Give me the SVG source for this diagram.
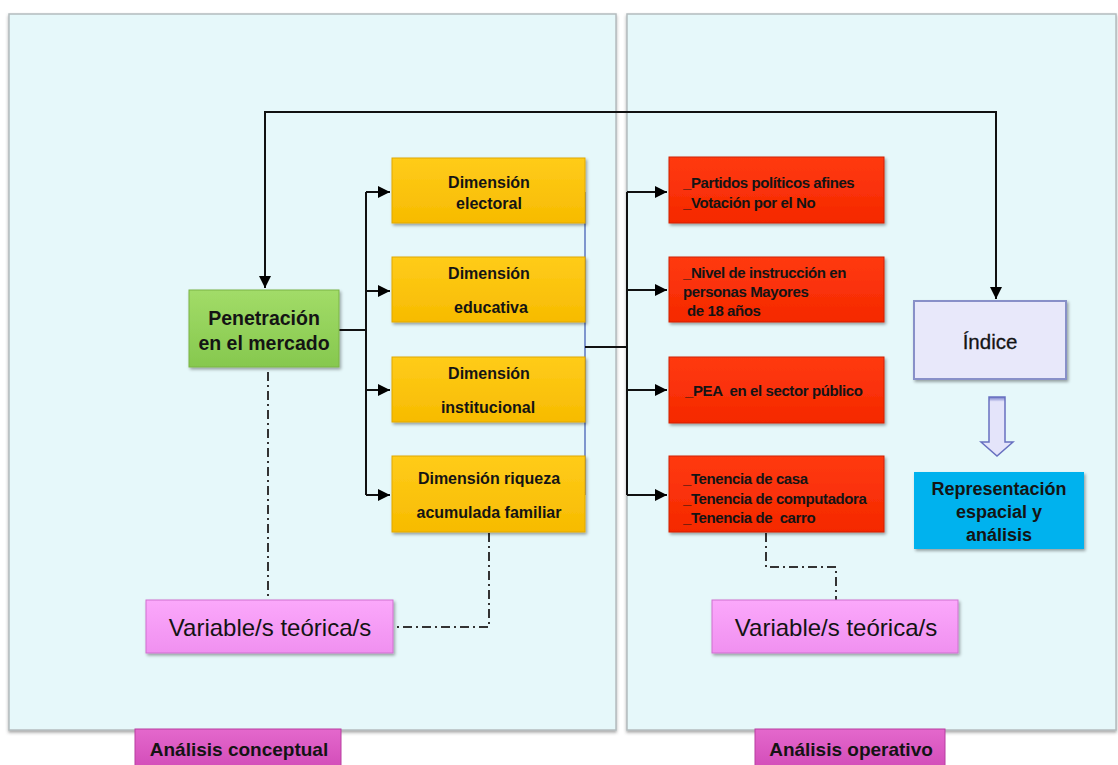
<svg xmlns="http://www.w3.org/2000/svg" width="1118" height="765" viewBox="0 0 1118 765">
<defs>
<filter id="sh" x="-10%" y="-10%" width="130%" height="140%">
<feDropShadow dx="1.5" dy="2" stdDeviation="1.5" flood-color="#000" flood-opacity="0.35"/>
</filter>
<filter id="psh" x="-5%" y="-5%" width="110%" height="110%">
<feDropShadow dx="0" dy="2" stdDeviation="1.5" flood-color="#555" flood-opacity="0.5"/>
</filter>
<linearGradient id="gGreen" x1="0" y1="0" x2="0" y2="1"><stop offset="0" stop-color="#a2dc68"/><stop offset="1" stop-color="#86c84e"/></linearGradient>
<linearGradient id="gYellow" x1="0" y1="0" x2="0" y2="1"><stop offset="0" stop-color="#ffcc1a"/><stop offset="1" stop-color="#f7bb00"/></linearGradient>
<linearGradient id="gRed" x1="0" y1="0" x2="0" y2="1"><stop offset="0" stop-color="#ff3a10"/><stop offset="1" stop-color="#f52800"/></linearGradient>
<linearGradient id="gPink" x1="0" y1="0" x2="0" y2="1"><stop offset="0" stop-color="#fba8fb"/><stop offset="1" stop-color="#f090f0"/></linearGradient>
<linearGradient id="gTab" x1="0" y1="0" x2="0" y2="1"><stop offset="0" stop-color="#e468cc"/><stop offset="1" stop-color="#d24cb8"/></linearGradient>
<linearGradient id="gArrow" x1="0" y1="0" x2="0" y2="1"><stop offset="0" stop-color="#7078c8"/><stop offset="0.08" stop-color="#e4e4fa"/><stop offset="1" stop-color="#e4e4fa"/></linearGradient>
<marker id="arr" viewBox="0 0 10 10" refX="10" refY="5" markerWidth="6" markerHeight="6" orient="auto-start-reverse" markerUnits="strokeWidth">
<path d="M0,0 L10,5 L0,10 z" fill="#000"/>
</marker>
</defs>
<style>
.t{font-family:"Liberation Sans",Arial,sans-serif;fill:#141414;}
.b{font-weight:bold;}
.c{text-anchor:middle;}
.ln{fill:none;stroke:#111;stroke-width:2;}
.dd{fill:none;stroke:#333;stroke-width:2;stroke-dasharray:9 4 2 4;}
.red{font-size:15px;font-weight:bold;letter-spacing:-0.4px;}
.yel{font-size:16px;font-weight:bold;}
</style>
<rect width="1118" height="765" fill="#ffffff"/>
<g id="panels">
<rect x="9" y="14" width="607" height="716" fill="#e6f8fa" stroke="#b4bcbe" stroke-width="1.5" filter="url(#psh)"/>
<rect x="627" y="14" width="489" height="716" fill="#e6f8fa" stroke="#b4bcbe" stroke-width="1.5" filter="url(#psh)"/>
</g>
<g id="connectors">
<path class="ln" d="M265,288 V112 H996 V299" marker-start="url(#arr)" marker-end="url(#arr)"/>
<path class="ln" d="M339,330 H366"/>
<path class="ln" d="M366,192 V495"/>
<path class="ln" d="M366,192 H390" marker-end="url(#arr)"/>
<path class="ln" d="M366,291 H390" marker-end="url(#arr)"/>
<path class="ln" d="M366,390 H390" marker-end="url(#arr)"/>
<path class="ln" d="M366,495 H390" marker-end="url(#arr)"/>
<path d="M585,192 V495" fill="none" stroke="#3a55b0" stroke-width="1.2"/>
<path class="ln" d="M585,347 H627" stroke-width="1.5"/>
<path class="ln" d="M627,192 V495"/>
<path class="ln" d="M627,192 H667" marker-end="url(#arr)"/>
<path class="ln" d="M627,290 H667" marker-end="url(#arr)"/>
<path class="ln" d="M627,390 H667" marker-end="url(#arr)"/>
<path class="ln" d="M627,495 H667" marker-end="url(#arr)"/>
<path class="dd" d="M268,372 V600"/>
<path class="dd" d="M489,533 V627 H393"/>
<path class="dd" d="M766,533 V567 H836 V600"/>
<polygon points="989,397 1005,397 1005,442 1013,442 997,456 981,442 989,442" fill="url(#gArrow)" stroke="#6870c0" stroke-width="1.5"/>
</g>
<g id="n-penetracion">
<rect x="189" y="290" width="150" height="77" fill="url(#gGreen)" stroke="#7ab446" stroke-width="1" filter="url(#sh)"/>
<text class="t b c" x="264" y="325" font-size="19.5">Penetración</text>
<text class="t b c" x="264" y="350" font-size="19.5">en el mercado</text>
</g>
<g id="n-dim-electoral">
<rect x="392" y="158" width="193" height="65" fill="url(#gYellow)" stroke="#e0a800" stroke-width="1" filter="url(#sh)"/>
<text class="t yel c" x="489" y="188">Dimensión</text>
<text class="t yel c" x="489" y="209">electoral</text>
</g>
<g id="n-dim-educativa">
<rect x="392" y="257" width="193" height="65" fill="url(#gYellow)" stroke="#e0a800" stroke-width="1" filter="url(#sh)"/>
<text class="t yel c" x="489" y="279">Dimensión</text>
<text class="t yel c" x="491" y="313">educativa</text>
</g>
<g id="n-dim-institucional">
<rect x="392" y="357" width="193" height="65" fill="url(#gYellow)" stroke="#e0a800" stroke-width="1" filter="url(#sh)"/>
<text class="t yel c" x="489" y="379">Dimensión</text>
<text class="t yel c" x="488" y="413">institucional</text>
</g>
<g id="n-dim-riqueza">
<rect x="392" y="456" width="193" height="76" fill="url(#gYellow)" stroke="#e0a800" stroke-width="1" filter="url(#sh)"/>
<text class="t yel c" x="489" y="484">Dimensión riqueza</text>
<text class="t yel c" x="489" y="518">acumulada familiar</text>
</g>
<g id="n-partidos">
<rect x="669" y="157" width="215" height="66" fill="url(#gRed)" stroke="#d02000" stroke-width="1" filter="url(#sh)"/>
<text class="t red" x="683" y="188">_Partidos políticos afines</text>
<text class="t red" x="683" y="208">_Votación por el No</text>
</g>
<g id="n-nivel">
<rect x="669" y="257" width="215" height="65" fill="url(#gRed)" stroke="#d02000" stroke-width="1" filter="url(#sh)"/>
<text class="t red" x="683" y="278">_Nivel de instrucción en</text>
<text class="t red" x="683" y="297">personas Mayores</text>
<text class="t red" x="687" y="316">de 18 años</text>
</g>
<g id="n-pea">
<rect x="669" y="357" width="215" height="66" fill="url(#gRed)" stroke="#d02000" stroke-width="1" filter="url(#sh)"/>
<text class="t red" x="685" y="396" xml:space="preserve">_PEA  en el sector público</text>
</g>
<g id="n-tenencia">
<rect x="669" y="456" width="215" height="76" fill="url(#gRed)" stroke="#d02000" stroke-width="1" filter="url(#sh)"/>
<text class="t red" x="683" y="484">_Tenencia de casa</text>
<text class="t red" x="683" y="504">_Tenencia de computadora</text>
<text class="t red" x="683" y="523" xml:space="preserve">_Tenencia de  carro</text>
</g>
<g id="n-indice">
<rect x="914" y="301" width="152" height="78" fill="#e8e8fa" stroke="#8890c8" stroke-width="2" filter="url(#sh)"/>
<text class="t c" x="990" y="349" font-size="20.5" stroke="#141414" stroke-width="0.3">Índice</text>
</g>
<g id="n-representacion">
<rect x="914" y="472" width="170" height="77" fill="#00b2ee" filter="url(#sh)"/>
<text class="t b c" x="999" y="495" font-size="18">Representación</text>
<text class="t b c" x="999" y="518" font-size="18">espacial y</text>
<text class="t b c" x="999" y="541" font-size="18">análisis</text>
</g>
<g id="n-variable-izq">
<rect x="146" y="600" width="247" height="53" fill="url(#gPink)" stroke="#d070d0" stroke-width="1" filter="url(#sh)"/>
<text class="t c" x="270" y="636" font-size="24">Variable/s teórica/s</text>
</g>
<g id="n-variable-der">
<rect x="712" y="600" width="246" height="53" fill="url(#gPink)" stroke="#d070d0" stroke-width="1" filter="url(#sh)"/>
<text class="t c" x="836" y="636" font-size="24">Variable/s teórica/s</text>
</g>
<g id="n-tab-conceptual">
<rect x="135" y="729" width="206" height="40" fill="url(#gTab)" stroke="#b83ea0" stroke-width="1"/>
<text class="t b c" x="239" y="756" font-size="19">Análisis conceptual</text>
</g>
<g id="n-tab-operativo">
<rect x="755" y="729" width="190" height="40" fill="url(#gTab)" stroke="#b83ea0" stroke-width="1"/>
<text class="t b c" x="851" y="756" font-size="19">Análisis operativo</text>
</g>
</svg>
